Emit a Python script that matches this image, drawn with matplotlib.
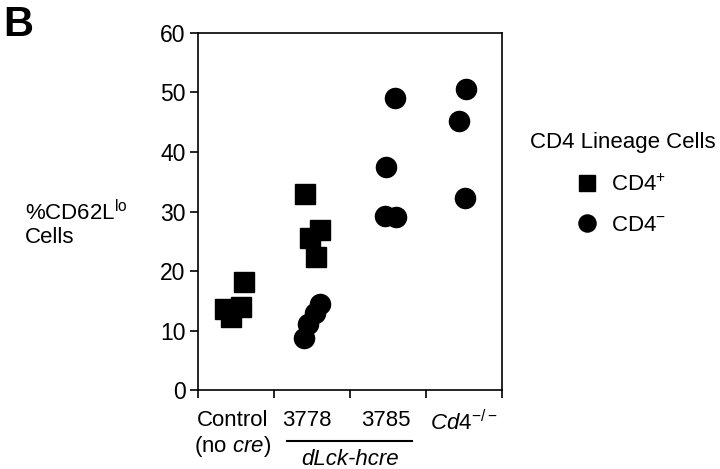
import matplotlib.pyplot as plt
from matplotlib.transforms import blended_transform_factory

plt.rcParams['font.family'] = ['Liberation Sans', 'DejaVu Sans']
plt.rcParams['mathtext.fontset'] = 'custom'
plt.rcParams['mathtext.rm'] = 'Liberation Sans'
plt.rcParams['mathtext.it'] = 'Liberation Sans:italic'

# Daten (x = Gruppenposition, y = %CD62L lo)
cd4_pos_x = [0.35, 0.44, 0.57, 0.60, 1.41, 1.47, 1.60, 1.55]
cd4_pos_y = [13.7, 12.3, 14.0, 18.2, 33.0, 25.5, 26.9, 22.4]
cd4_neg_x = [1.39, 1.45, 1.54, 1.60, 2.47, 2.59, 2.46, 2.61, 3.43, 3.53, 3.51]
cd4_neg_y = [8.7, 11.1, 12.9, 14.5, 37.5, 49.0, 29.2, 29.1, 45.2, 50.6, 32.2]

grupos = ['Control', '3778', '3785', r'$\mathit{Cd4^{-/-}}$']
grupos_x = [0.45, 1.43, 2.47, 3.5]

fs = 16

fig = plt.figure(figsize=(7.2, 4.69), dpi=100)
ax = fig.add_axes([0.275, 0.168, 0.422, 0.762])

ax.plot(cd4_pos_x, cd4_pos_y, 's', color='black', markersize=14, label='CD4$^{+}$')
ax.plot(cd4_neg_x, cd4_neg_y, 'o', color='black', markersize=14.5, label='CD4$^{-}$')

ax.set_xlim(0, 4)
ax.set_ylim(0, 60)
ax.set_yticks([0, 10, 20, 30, 40, 50, 60])
ax.tick_params(axis='y', labelsize=16.5, length=6, width=1.2, direction='out', pad=3)
ax.set_xticks([0, 1, 2, 3, 4])
ax.set_xticklabels([])
ax.tick_params(axis='x', which='major', length=6, width=1.2, direction='out')
ax.set_xticks(grupos_x, minor=True)
ax.set_xticklabels(grupos, minor=True)
ax.tick_params(axis='x', which='minor', length=0, labelsize=fs, pad=14)
for s in ax.spines.values():
    s.set_linewidth(1.2)

# segunda linha de rótulos
trans = blended_transform_factory(ax.transData, fig.transFigure)
ax.text(0.45, 0.036, '(no $\\mathit{cre}$)', transform=trans, ha='center', va='baseline', fontsize=fs)
ax.text(2.0, 0.009, 'dLck-hcre', transform=trans, ha='center', va='baseline',
        fontsize=fs, style='italic')
ax.plot([1.17, 2.82], [0.06, 0.06], transform=trans, color='black', lw=1.5, clip_on=False)

fig.text(0.035, 0.522, '%CD62L$^{\\mathrm{lo}}$\nCells', fontsize=fs, ha='left', va='center',
         linespacing=1.1)
fig.text(0.005, 0.99, 'B', fontsize=30, fontweight='bold', ha='left', va='top')

# legenda
fig.text(0.736, 0.697, 'CD4 Lineage Cells', fontsize=fs, ha='left', va='center')
ax.legend(loc='upper left', bbox_to_anchor=(0.785, 0.628), bbox_transform=fig.transFigure,
          frameon=False, fontsize=fs, handletextpad=0.05, labelspacing=0.85,
          markerscale=0.85, borderaxespad=0, borderpad=0)

fig.savefig('out.png', dpi=100)
